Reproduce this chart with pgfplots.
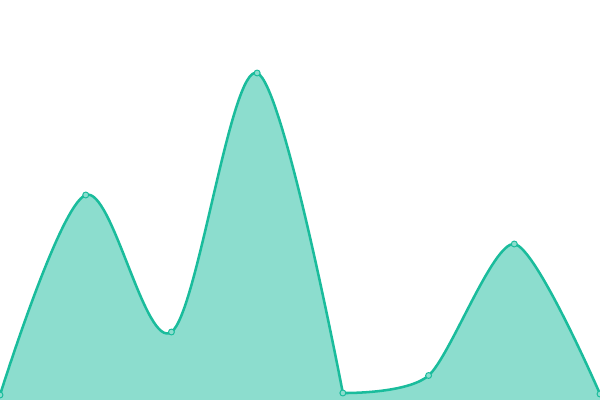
\documentclass[border=0pt]{standalone}
\usepackage{pgfplots}
\pgfplotsset{compat=1.18}
\definecolor{teal}{HTML}{1ABC9C}
\definecolor{tealfill}{HTML}{8CDDCE}
% the curve has a corner at the fifth point, so it is drawn in two pieces
\pgfplotstableread{
x y
0 5
1 205
2 68
3 327
4 7
}\left
\pgfplotstableread{
x y
4 7
5 24.5
6 156
7 6
}\right
\pgfplotstableread{
x y
0 5
1 205
2 68
3 327
4 7
5 24.5
6 156
7 6
}\all
\begin{document}
\begin{tikzpicture}
\begin{axis}[
  width=15cm, height=10cm, scale only axis,
  hide axis,
  xmin=0, xmax=7, ymin=0, ymax=400,
  clip marker paths=true,
]
\addplot[fill=tealfill, draw=tealfill, line width=0.3pt, smooth, tension=0.55] table {\left} \closedcycle;
\addplot[fill=tealfill, draw=tealfill, line width=0.3pt, smooth, tension=0.45] table {\right} \closedcycle;
\addplot[teal, line width=1.8pt, smooth, tension=0.55] table {\left};
\addplot[teal, line width=1.8pt, smooth, tension=0.45] table {\right};
\addplot[only marks, mark=*, mark size=2.1pt,
  mark options={line width=0.7pt, draw=teal, fill=tealfill}] table {\all};
\path (rel axis cs:0,0) rectangle (rel axis cs:1,1);
\end{axis}
\end{tikzpicture}
\end{document}
